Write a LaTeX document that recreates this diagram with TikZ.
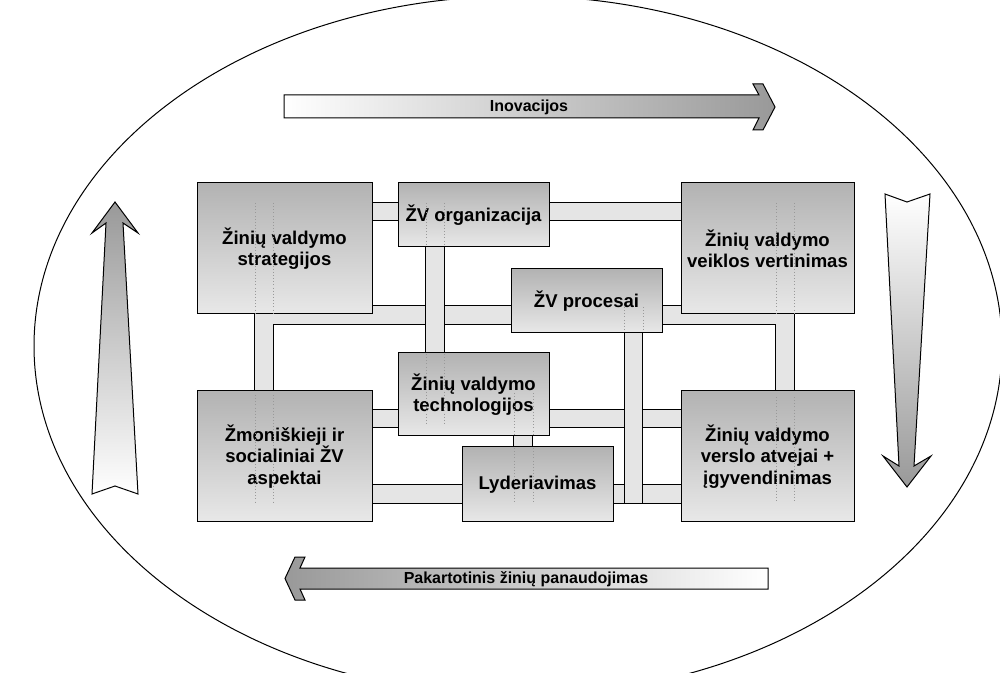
\documentclass[tikz,border=0pt]{standalone}
\usepackage{fontspec}
\setmainfont{Liberation Sans}
\usetikzlibrary{calc,backgrounds}
\begin{document}
\begin{tikzpicture}[x=0.75pt,y=-0.75pt,
  box/.style={draw=black, line width=0.75pt, top color=black!30, bottom color=black!9,
    inner sep=0pt, align=center, font=\fontsize{13.9}{16}\selectfont\bfseries},
  bar/.style={draw=black, line width=0.75pt, double=black!10, double distance=13.1pt},
  ghost/.style={draw=black!40, dotted, line width=0.35pt},
  bigarrow/.style={draw=black, line width=0.75pt, line join=miter},
  arrowtext/.style={font=\fontsize{12}{14}\selectfont\bfseries, inner sep=0pt}
]
\useasboundingbox (0,0) rectangle (1000,673);

% surrounding ellipse
\begin{scope}
  \clip (0,0) rectangle (1000,673);
  \draw[line width=0.75pt] (518,346) ellipse [x radius=484, y radius=350];
\end{scope}

% knowledge management building blocks
\node[box, minimum width=131.25pt, minimum height=98.25pt] (s1) at (284.5,248.5) {Žinių valdymo\\strategijos};
\node[box, minimum width=113.25pt, minimum height=48pt] (org) at (473.5,215) {ŽV organizacija};
\node[box, minimum width=113.25pt, minimum height=48pt] (proc) at (586.5,301) {ŽV procesai};
\node[box, minimum width=129.75pt, minimum height=98.25pt] (veik) at (767.5,248.5) {Žinių valdymo\\veiklos vertinimas};
\node[box, minimum width=113.25pt, minimum height=62.25pt] (tech) at (473.5,394.5) {Žinių valdymo\\technologijos};
\node[box, minimum width=113.25pt, minimum height=56.25pt] (lyd) at (537.5,484.5) {Lyderiavimas};
\node[box, minimum width=131.25pt, minimum height=98.25pt] (zmon) at (284.5,456.5) {Žmoniškieji ir\\socialiniai ŽV\\aspektai};
\node[box, minimum width=129.75pt, minimum height=98.25pt] (verslo) at (767.5,456.5) {Žinių valdymo\\verslo atvejai +\\įgyvendinimas};

% pipes linking the blocks, kept behind them
\begin{pgfonlayer}{background}
  \draw[bar] ($(s1.east)+(-10,-37)$) -- ($(veik.west)+(10,-37)$);
  \draw[bar] ($(zmon.north)+(-20.5,8)$) |- ($(proc.west)+(0,14)$) -| ($(verslo.north)+(17.5,8)$);
  \draw[bar] ($(org.south)+(-38.5,-8)$) -- ($(tech.north)+(-38.5,8)$);
  \draw[bar] ($(zmon.east)+(-10,-38)$) -- ($(verslo.west)+(10,-38)$);
  \draw[bar] ($(zmon.east)+(-10,37.5)$) -- ($(verslo.west)+(10,37.5)$);
  \draw[bar] ($(proc.south)+(47,-8)$) -- ($(proc.south)+(47,169.5)$);
  \draw[bar] ($(tech.south)+(49.5,-5)$) -- ($(lyd.north)+(-14.5,5)$);
\end{pgfonlayer}

% faint pipe edges showing through the blocks
\foreach \xa in {254.75,273.25} {
  \draw[ghost] (\xa,203) -- (\xa,313);
  \draw[ghost] (\xa,395) -- (\xa,503);
}
\foreach \xa in {775.75,794.25} {
  \draw[ghost] (\xa,203) -- (\xa,313);
  \draw[ghost] (\xa,397) -- (\xa,503);
}
\foreach \xa in {425.75,444.25} {
  \draw[ghost] (\xa,203) -- (\xa,246);
  \draw[ghost] (\xa,354) -- (\xa,425);
}
\foreach \xa in {624.25,642.75} \draw[ghost] (\xa,307) -- (\xa,332);
\foreach \xa in {514.25,532.75} {
  \draw[ghost] (\xa,393) -- (\xa,435);
  \draw[ghost] (\xa,448) -- (\xa,503);
}

% cycle arrows
\shadedraw[bigarrow, left color=white, right color=black!40]
  (284,95) -- (759,95) -- (753,84) -- (763,84) -- (775,107) -- (763,130)
  -- (753,130) -- (759,118) -- (284,118) -- cycle;
\node[arrowtext] (inov) at (529,107) {Inovacijos};

\shadedraw[bigarrow, top color=white, bottom color=black!40]
  (885,194) -- (907,202) -- (930,194) -- (914,466) -- (931,456) -- (907,487)
  -- (883,456) -- (899,466) -- cycle;

\shadedraw[bigarrow, left color=black!40, right color=white]
  (285,578.5) -- (295,557) -- (305,557) -- (300,568) -- (768,568) -- (768,589)
  -- (300,589) -- (305,600) -- (295,600) -- cycle;
\node[arrowtext] (pak) at (526,579) {Pakartotinis žinių panaudojimas};

\shadedraw[bigarrow, top color=black!40, bottom color=white]
  (115,202) -- (138,233) -- (123,223) -- (138,494) -- (115,486) -- (92,494)
  -- (106,223) -- (92,233) -- cycle;
\end{tikzpicture}
\end{document}
